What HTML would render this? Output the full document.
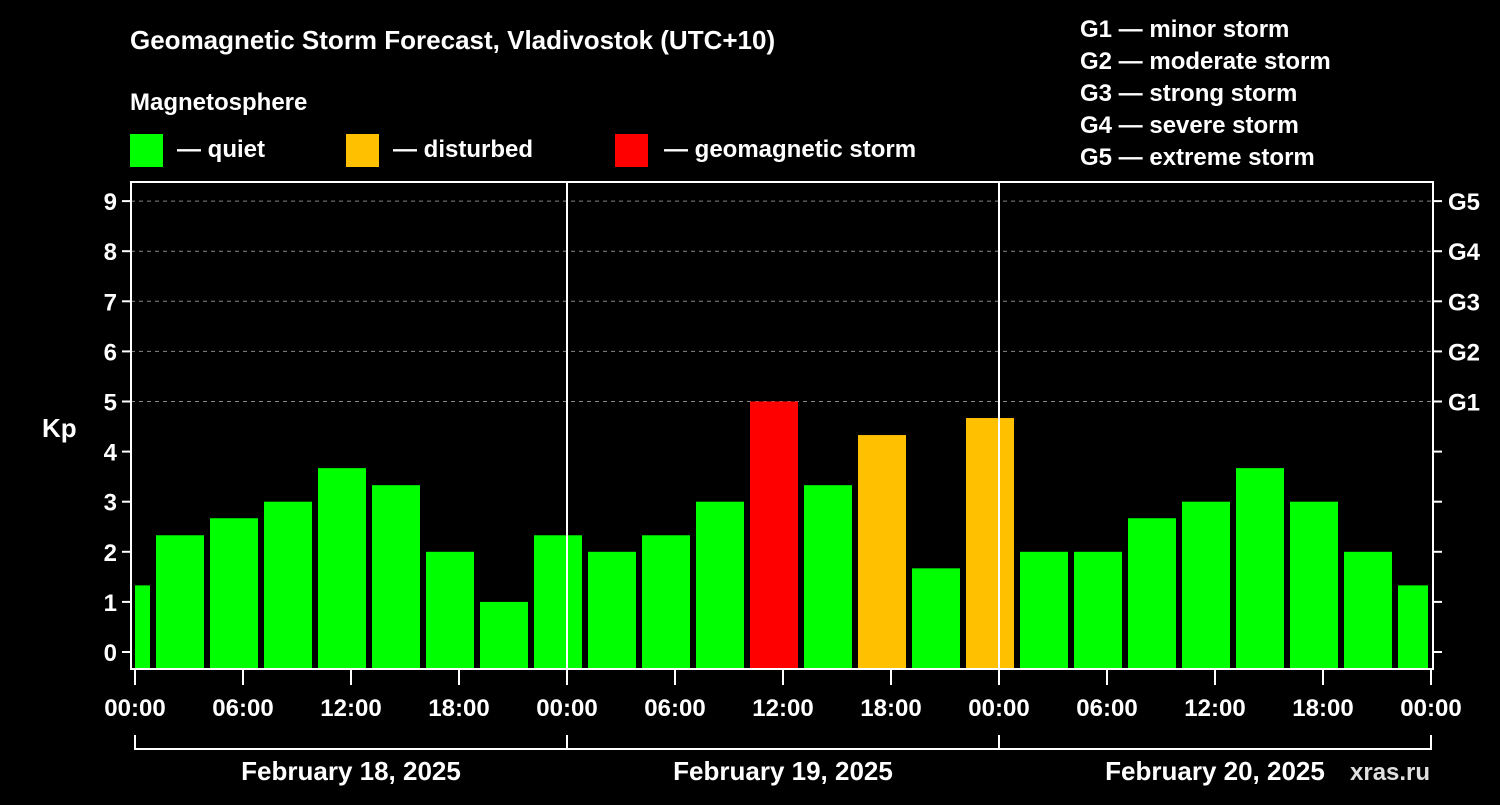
<!DOCTYPE html>
<html><head><meta charset="utf-8"><style>
body{margin:0;background:#000;width:1500px;height:800px;overflow:hidden}
svg text{font-family:"Liberation Sans",sans-serif;font-weight:bold;fill:#fff}
</style></head><body>
<svg id="c" width="1500" height="800">
<text x="130" y="49" font-size="26">Geomagnetic Storm Forecast, Vladivostok (UTC+10)</text>
<text x="130" y="110" font-size="24">Magnetosphere</text>
<g>
<rect x="130" y="134" width="33" height="33" fill="#00ff00"/>
<text x="177" y="157" font-size="24">— quiet</text>
<rect x="346" y="134" width="33" height="33" fill="#ffc000"/>
<text x="393" y="157" font-size="24">— disturbed</text>
<rect x="615" y="134" width="33" height="33" fill="#ff0000"/>
<text x="664" y="157" font-size="24">— geomagnetic storm</text>
</g>
<g font-size="24">
<text x="1080" y="37">G1 — minor storm</text>
<text x="1080" y="69">G2 — moderate storm</text>
<text x="1080" y="101">G3 — strong storm</text>
<text x="1080" y="133">G4 — severe storm</text>
<text x="1080" y="165">G5 — extreme storm</text>
</g>
<text x="42" y="437" font-size="26">Kp</text>
<text x="1350" y="780" font-size="24" fill="#fff" style="fill:#e0e0e0">xras.ru</text>
<g id="grid"></g><g id="bars"></g><g id="axes"></g>
</svg>
<script>
const values=[1.33,2.33,2.67,3,3.67,3.33,2,1,2.33,2,2.33,3,5,3.33,4.33,1.67,4.67,2,2,2.67,3,3.67,3,2,1.33];
const yTicks=[0,1,2,3,4,5,6,7,8,9];
const gLabels=["G1","G2","G3","G4","G5"];
const xLabels=["00:00","06:00","12:00","18:00","00:00","06:00","12:00","18:00","00:00","06:00","12:00","18:00","00:00"];
const days=["February 18, 2025","February 19, 2025","February 20, 2025"];
const NS="http://www.w3.org/2000/svg";
const L=131,R=1433,T=182,B=669,X0=135,HPX=18;
const y=v=>652-v*50.1;
const x=h=>X0+h*HPX;
function mk(tag,a,parent){const e=document.createElementNS(NS,tag);for(const k in a)e.setAttribute(k,a[k]);parent.appendChild(e);return e;}
const grid=document.getElementById('grid'),bars=document.getElementById('bars'),axes=document.getElementById('axes');
yTicks.forEach(v=>{
 if(v>=5){const g=mk('line',{x1:L,x2:R,y1:y(v),y2:y(v),stroke:'#888','stroke-width':1,'stroke-dasharray':'4,4'},grid);
 
 }
 const t=mk('line',{x1:L-9,x2:L,y1:y(v),y2:y(v),stroke:'#fff','stroke-width':2},axes);
 
 
 const t2=mk('line',{x1:R,x2:R+9,y1:y(v),y2:y(v),stroke:'#fff','stroke-width':2},axes);
 
 
 const tx=mk('text',{x:L-14,y:y(v)+9,'font-size':24,'text-anchor':'end'},axes);tx.textContent=v;
 
 
});
gLabels.forEach((g,i)=>{const tx=mk('text',{x:R+15,y:y(5+i)+9,'font-size':24},axes);tx.textContent=g;
 
 });
values.forEach((v,i)=>{
 const c=i*3-0.5;let x1=x(c)-24,x2=x(c)+24;x1=Math.max(x1,135);x2=Math.min(x2,1428);
 const col=v>=5?'#ff0000':(v>=4?'#ffc000':'#00ff00');
 const r=mk('rect',{x:x1,y:y(v),width:x2-x1,height:B-y(v),fill:col},bars);
 
 
});
[1,2].forEach(d=>{const l=mk('line',{x1:x(d*24),x2:x(d*24),y1:T,y2:B,stroke:'#fff','stroke-width':2},axes);
 
 });
const f=mk('rect',{x:L,y:T,width:R-L,height:B-T,fill:'none',stroke:'#fff','stroke-width':2},axes);


xLabels.forEach((s,i)=>{const xx=x(i*6);
 const t=mk('line',{x1:xx,x2:xx,y1:B,y2:685,stroke:'#fff','stroke-width':2},axes);
 
 
 const tx=mk('text',{x:xx,y:716,'font-size':24,'text-anchor':'middle'},axes);tx.textContent=s;
 
 });
const bl=mk('path',{d:`M${x(0)},735V749H${x(72)}V735`,fill:'none',stroke:'#fff','stroke-width':2},axes);


[1,2].forEach(d=>{const l=mk('line',{x1:x(d*24),x2:x(d*24),y1:735,y2:749,stroke:'#fff','stroke-width':2},axes);
 
 });
days.forEach((s,i)=>{const tx=mk('text',{x:x(i*24+12),y:780,'font-size':26,'text-anchor':'middle'},axes);tx.textContent=s;
 
 });
</script>
</body></html>
